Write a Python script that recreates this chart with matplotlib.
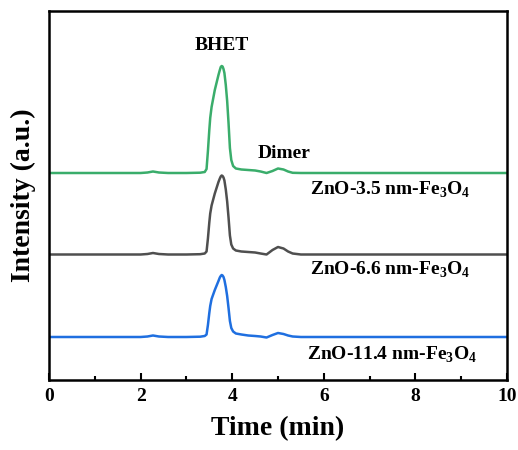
import matplotlib
matplotlib.use("Agg")
import matplotlib.pyplot as plt
import numpy as np
from matplotlib.ticker import MultipleLocator

plt.rcParams['font.family'] = ['Liberation Serif', 'DejaVu Serif']
plt.rcParams['mathtext.fontset'] = 'custom'
plt.rcParams['mathtext.rm'] = 'Liberation Serif:bold'
plt.rcParams['mathtext.bf'] = 'Liberation Serif:bold'

# Retention time (min)
time = [0.0, 1.0, 2.0, 2.15, 2.27, 2.4, 2.6, 3.0, 3.3, 3.40, 3.44, 3.47,
        3.50, 3.52, 3.55, 3.62, 3.70, 3.73, 3.75, 3.77, 3.79, 3.81, 3.83,
        3.86, 3.89, 3.92, 3.95, 3.98, 4.02, 4.08, 4.20, 4.35, 4.50, 4.62,
        4.75, 4.88, 5.00, 5.12, 5.22, 5.32, 5.50, 6.0, 7.0, 8.0, 9.0, 10.0]

# Intensity above each trace's own baseline (a.u.)
zno_35 = [0, 0, 0, 0.5, 1.5, 0.5, 0, 0, 0.3, 1, 4, 22, 43, 55, 66, 83, 98,
          103, 106, 107, 106.5, 104, 100, 88, 72, 50, 25, 13, 7, 4.5, 3.5, 3,
          2.5, 1.5, 0, 2, 4.5, 3.5, 1.5, 0.2, 0, 0, 0, 0, 0, 0]
zno_66 = [0, 0, 0, 0.5, 1.5, 0.5, 0, 0, 0.3, 1, 3, 16, 32, 41, 49, 61, 72.5,
          76, 78, 79, 78.5, 77, 74, 65, 53, 37, 19, 10, 6, 4, 3, 2.5, 2, 1,
          0, 4.5, 7.5, 6, 3, 1, 0, 0, 0, 0, 0, 0]
zno_114 = [0, 0, 0, 0.5, 1.5, 0.5, 0, 0, 0.3, 1, 2.5, 12, 24, 31, 38, 47, 56,
           59.5, 61, 62, 61.5, 60, 57, 50, 41, 29, 16, 9, 5.5, 3.5, 2.5, 1.5,
           1, 0.5, -0.5, 2, 4, 3, 1.5, 0.5, 0, 0, 0, 0, 0, 0]

# Vertical stacking offsets of the traces
offsets = [207, 125.5, 43]

series = [zno_35, zno_66, zno_114]
colors = ['#3aad6b', '#4f4f4f', '#1f6fe0']
sample_labels = ['ZnO-3.5 nm-Fe$_3$O$_4$', 'ZnO-6.6 nm-Fe$_3$O$_4$',
                 'ZnO-11.4 nm-Fe$_3$O$_4$']
label_pos = [(5.70, 190), (5.70, 110), (5.63, 25)]

fig = plt.figure(figsize=(5.18, 4.5), dpi=100)
ax = fig.add_axes([49/518, 70/450, (507-49)/518, (380-11)/450])

for y, off, c in zip(series, offsets, colors):
    ax.plot(time, np.asarray(y) + off, color=c, lw=1.8,
            solid_joinstyle='round', solid_capstyle='round')

for (lx, ly), lab in zip(label_pos, sample_labels):
    ax.text(lx, ly, lab, fontsize=14, fontweight='bold', ha='left', va='center')

ax.text(3.78, 335, 'BHET', fontsize=14, fontweight='bold', ha='center', va='center')
ax.text(4.56, 227, 'Dimer', fontsize=14, fontweight='bold', ha='left', va='center')

ax.set_xlim(0, 10)
ax.set_ylim(0, 369)
ax.xaxis.set_major_locator(MultipleLocator(2))
ax.xaxis.set_minor_locator(MultipleLocator(1))
ax.set_yticks([])
ax.tick_params(axis='x', which='major', direction='in', length=5, width=1.5,
               labelsize=14, pad=6)
ax.tick_params(axis='x', which='minor', direction='in', length=3, width=1.5)
for lbl in ax.get_xticklabels():
    lbl.set_fontweight('bold')
for s in ax.spines.values():
    s.set_linewidth(1.8)

ax.set_xlabel('Time (min)', fontsize=20, fontweight='bold', labelpad=8)
ax.set_ylabel('Intensity (a.u.)', fontsize=20, fontweight='bold', labelpad=9)

fig.savefig('out.png', dpi=100)
